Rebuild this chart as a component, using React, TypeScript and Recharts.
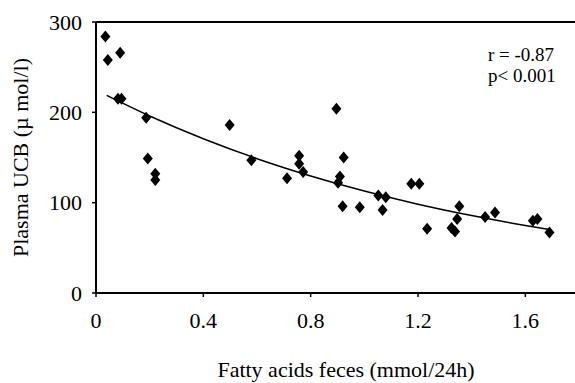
import React from 'react';
import { ComposedChart, Scatter, Line, XAxis, YAxis, ReferenceLine, Customized } from 'recharts';

const fattyAcids = [0.035, 0.044, 0.09, 0.082, 0.095, 0.187, 0.193, 0.221, 0.221, 0.498, 0.579, 0.712, 0.757, 0.757, 0.772, 0.896, 0.923, 0.909, 0.902, 0.919, 0.983, 1.052, 1.08, 1.068, 1.175, 1.205, 1.234, 1.354, 1.346, 1.325, 1.338, 1.45, 1.487, 1.628, 1.645, 1.69];
const plasmaUCB = [284, 258, 266, 215, 215, 194, 149, 132, 125, 186, 147, 127, 152, 143, 134, 204, 150, 129, 122, 96, 95, 108, 106, 92, 121, 121, 71, 96, 82, 72, 68, 84, 89, 80, 82, 67];

const trendX = [0.04, 0.2, 0.4, 0.6, 0.8, 1.0, 1.2, 1.4, 1.6, 1.69];
const trendY = [218.7, 195.9, 170.7, 148.7, 129.6, 112.9, 98.3, 85.7, 74.7, 70.2];

const xTicks = [0, 0.4, 0.8, 1.2, 1.6];
const yTicks = [0, 100, 200, 300];

const xLabel = 'Fatty acids feces (mmol/24h)';
const yLabel = 'Plasma UCB (\u00b5 mol/l)';
const statLines = ['r = -0.87', 'p< 0.001'];

const points = fattyAcids.map((x, i) => ({ x, y: plasmaUCB[i] }));
const trend = trendX.map((x, i) => ({ x, y: trendY[i] }));

const FONT = "'Liberation Serif', 'Times New Roman', serif";

const Diamond = (props: any) => {
  const { cx, cy } = props;
  if (cx == null || cy == null) return null;
  return <polygon points={`${cx},${cy - 6} ${cx + 5},${cy} ${cx},${cy + 6} ${cx - 5},${cy}`} fill="#000" />;
};

const YLabel = (props: any) => {
  const vb = props.viewBox || {};
  const cy = vb.y + vb.height / 2;
  return (
    <text x={28} y={cy} transform={`rotate(-90, 28, ${cy})`} textAnchor="middle" fontSize={22} fontFamily={FONT} fill="#000">
      {yLabel}
    </text>
  );
};

const XLabel = (props: any) => {
  const vb = props.viewBox || {};
  return (
    <text x={vb.x + 250} y={377} textAnchor="middle" fontSize={22} fontFamily={FONT} fill="#000">
      {xLabel}
    </text>
  );
};

const Stats = () => (
  <g>
    {statLines.map((s, i) => (
      <text key={i} x={488} y={60.5 + i * 21} fontSize={19} fontFamily={FONT} fill="#000">
        {s}
      </text>
    ))}
  </g>
);

export default function App() {
  const tickStyle = { fill: '#000', fontSize: 22, fontFamily: FONT };
  return (
    <div style={{ position: 'absolute', left: 0, top: 0, width: 575, height: 383, overflow: 'hidden', background: '#fff' }}>
      <ComposedChart width={580} height={383} margin={{ top: 22, right: 1, left: 0, bottom: 0 }}>
        <XAxis
          type="number"
          dataKey="x"
          domain={[0, 1.8]}
          ticks={xTicks}
          allowDataOverflow
          height={90}
          tickSize={4}
          tickMargin={15}
          axisLine={{ stroke: '#000', strokeWidth: 2 }}
          tickLine={{ stroke: '#000', strokeWidth: 1.5 }}
          tick={tickStyle}
          label={<XLabel />}
        />
        <YAxis
          type="number"
          dataKey="y"
          domain={[0, 300]}
          ticks={yTicks}
          allowDataOverflow
          width={96}
          tickSize={4}
          tickMargin={10}
          axisLine={{ stroke: '#000', strokeWidth: 2 }}
          tickLine={{ stroke: '#000', strokeWidth: 1.5 }}
          tick={tickStyle}
          label={<YLabel />}
        />
        <ReferenceLine y={300} stroke="#000" strokeWidth={2} />
        <Line data={trend} dataKey="y" type="monotone" stroke="#000" strokeWidth={1.5} dot={false} activeDot={false} isAnimationActive={false} />
        <Scatter data={points} dataKey="y" shape={<Diamond />} isAnimationActive={false} />
        <Customized component={Stats} />
      </ComposedChart>
    </div>
  );
}
